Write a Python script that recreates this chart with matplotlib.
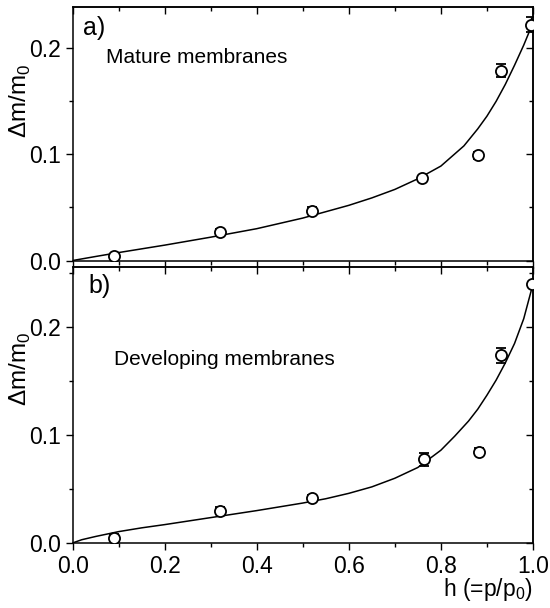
import numpy as np
import matplotlib
matplotlib.use("Agg")
import matplotlib.pyplot as plt
from matplotlib.ticker import MultipleLocator

plt.rcParams["font.family"] = ["Liberation Sans", "DejaVu Sans"]
plt.rcParams["mathtext.fontset"] = "custom"
plt.rcParams["mathtext.rm"] = "Liberation Sans"

# ── data: (a) mature membranes ───────────────────────────────────────────────
h_a = [0.09, 0.32, 0.52, 0.76, 0.88, 0.93, 0.995]
dm_a = [0.004, 0.0265, 0.047, 0.0775, 0.099, 0.179, 0.222]
err_a = [0.002, 0.003, 0.003, 0.002, 0.003, 0.006, 0.007]

fit_h_a = [0.0, 0.05, 0.1, 0.15, 0.2, 0.3, 0.4, 0.5, 0.55, 0.6, 0.65, 0.7,
           0.75, 0.8, 0.85, 0.88, 0.9, 0.92, 0.94, 0.96, 0.98, 1.0]
fit_a = [0.0, 0.0038, 0.0075, 0.011, 0.0145, 0.022, 0.030, 0.040, 0.046,
         0.052, 0.059, 0.067, 0.077, 0.089, 0.108, 0.124, 0.136, 0.150,
         0.166, 0.184, 0.203, 0.224]

# ── data: (b) developing membranes ───────────────────────────────────────────
h_b = [0.09, 0.32, 0.52, 0.763, 0.883, 0.93, 0.997]
dm_b = [0.005, 0.030, 0.0415, 0.0775, 0.0847, 0.174, 0.240]
err_b = [0.003, 0.003, 0.003, 0.006, 0.003, 0.007, 0.002]

fit_h_b = [0.0, 0.02, 0.05, 0.1, 0.15, 0.2, 0.3, 0.4, 0.5, 0.55, 0.6, 0.65,
           0.7, 0.75, 0.8, 0.83, 0.86, 0.88, 0.9, 0.92, 0.94, 0.96, 0.98, 1.0]
fit_b = [0.0, 0.003, 0.006, 0.0105, 0.014, 0.017, 0.0235, 0.030, 0.037,
         0.041, 0.046, 0.052, 0.060, 0.070, 0.086, 0.099, 0.113, 0.124,
         0.137, 0.151, 0.167, 0.185, 0.208, 0.240]

YLABEL = r"$\Delta$m/m$_\mathregular{0}$"

fig = plt.figure(figsize=(5.5, 6.08), dpi=100)
ax_a = fig.add_axes([0.132, 0.5715, 0.837, 0.4165])
ax_b = fig.add_axes([0.132, 0.107, 0.837, 0.454])


def style(ax, ytop):
    ax.set_xlim(0, 1.0)
    ax.set_ylim(0, ytop)
    ax.xaxis.set_major_locator(MultipleLocator(0.2))
    ax.xaxis.set_minor_locator(MultipleLocator(0.1))
    ax.yaxis.set_major_locator(MultipleLocator(0.1))
    ax.yaxis.set_minor_locator(MultipleLocator(0.05))
    for s in ax.spines.values():
        s.set_linewidth(1.1)
    ax.tick_params(which="both", direction="out", top=False, right=False,
                   labelsize=16.5, width=1.0, pad=3.5)
    ax.tick_params(which="major", length=5)
    ax.tick_params(which="minor", length=3)
    # inward ticks on top / right like the original
    sec_x = ax.secondary_xaxis("top")
    sec_x.xaxis.set_major_locator(MultipleLocator(0.2))
    sec_x.xaxis.set_minor_locator(MultipleLocator(0.1))
    sec_x.tick_params(which="both", direction="in", labeltop=False, width=1.0)
    sec_x.tick_params(which="major", length=5)
    sec_x.tick_params(which="minor", length=3)
    sec_x.spines["top"].set_linewidth(1.1)
    sec_y = ax.secondary_yaxis("right")
    sec_y.yaxis.set_major_locator(MultipleLocator(0.1))
    sec_y.yaxis.set_minor_locator(MultipleLocator(0.05))
    sec_y.tick_params(which="both", direction="in", labelright=False, width=1.0)
    sec_y.tick_params(which="major", length=5)
    sec_y.tick_params(which="minor", length=3)
    sec_y.spines["right"].set_linewidth(1.1)
    ax.set_ylabel(YLABEL, fontsize=17.5)
    ax.yaxis.set_label_coords(-0.086, 0.63)


def draw(ax, h, dm, err, fh, fv):
    ax.plot(fh, fv, color="black", lw=1.1)
    ax.errorbar(h, dm, yerr=err, fmt="o", ms=8, mfc="white", mec="black",
                mew=1.3, ecolor="black", elinewidth=1.0, capsize=3.8,
                capthick=1.0, zorder=3)


draw(ax_a, h_a, dm_a, err_a, fit_h_a, fit_a)
style(ax_a, 0.2386)
ax_a.tick_params(labelbottom=False)
ax_a.text(0.022, 0.92, "a)", transform=ax_a.transAxes, fontsize=18,
          ha="left", va="center")
ax_a.text(0.073, 0.80, "Mature membranes", transform=ax_a.transAxes,
          fontsize=15, ha="left", va="center")

draw(ax_b, h_b, dm_b, err_b, fit_h_b, fit_b)
style(ax_b, 0.256)
ax_b.text(0.035, 0.93, "b)", transform=ax_b.transAxes, fontsize=18,
          ha="left", va="center")
ax_b.text(0.091, 0.666, "Developing membranes", transform=ax_b.transAxes,
          fontsize=15, ha="left", va="center")
ax_b.set_xlabel(r"h (=p/p$_\mathregular{0}$)", fontsize=16.5, loc="right")
ax_b.xaxis.set_label_coords(1.0, -0.17)
ax_b.xaxis.label.set_verticalalignment("center")

fig.savefig("out.png", dpi=100)
